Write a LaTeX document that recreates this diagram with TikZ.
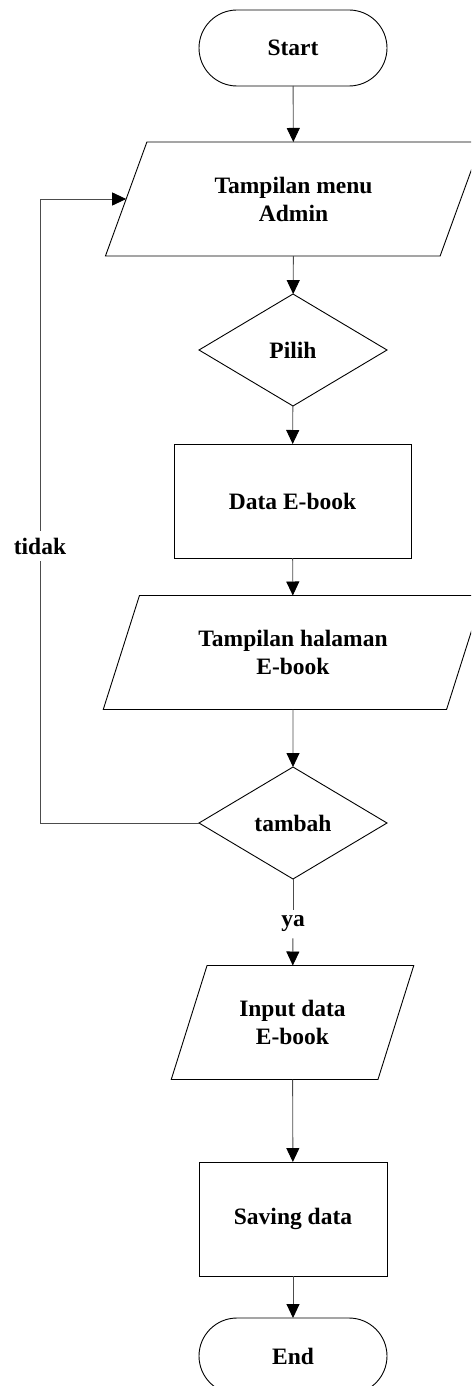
\documentclass[tikz,border=0pt]{standalone}
\usepackage{fontspec}
\setmainfont{Liberation Serif}
\usetikzlibrary{shapes.geometric,arrows.meta}

\tikzset{
  box/.style={draw, line width=0.9pt, inner sep=0pt, outer sep=0pt, align=center,
    font=\bfseries\fontsize{23.5}{28}\selectfont},
  term/.style={box, rectangle, rounded corners=38pt, minimum width=188pt, minimum height=76pt},
  io/.style={box, trapezium, trapezium left angle=63.4, trapezium right angle=116.6,
    trapezium stretches=true, minimum height=114pt},
  proc/.style={box, rectangle, minimum height=114pt},
  decision/.style={box, diamond, minimum width=188pt, minimum height=112pt},
  lbl/.style={fill=white, inner xsep=2pt, font=\bfseries\fontsize{23.5}{28}\selectfont},
  link/.style={draw=black!70, line width=0.9pt},
  flow/.style={link, -{Triangle[length=14pt,width=13pt,black]}}
}

\begin{document}
\begin{tikzpicture}[x=1pt, y=-1pt]
\useasboundingbox (0,0) rectangle (471,1386);
\clip (0,0) rectangle (471,1386);

% main column
\node[term] (start) at (293,48) {Start};
\node[io, minimum width=377pt] (menu) at (293.5,199) {Tampilan menu\\Admin};
\node[decision] (pilih) at (293,350) {Pilih};
\node[proc, minimum width=237pt] (data) at (292.5,501) {Data E-book};
\node[io, minimum width=380pt] (halaman) at (293,652.5) {Tampilan halaman\\E-book};
\node[decision] (tambah) at (293,823) {tambah};
\node[lbl, inner ysep=6pt] (ya) at (293,924) {ya};
\node[io, minimum width=243pt] (input) at (292.5,1022.5) {Input data\\E-book};
\node[proc, minimum width=188pt] (saving) at (293,1219) {Saving data};
\node[term] (end) at (293,1356) {End};

% loop back label
\node[lbl, inner ysep=7pt] (tidak) at (40,546) {tidak};

\draw[flow] (start) -- (menu);
\draw[flow] (menu) -- (pilih);
\draw[flow] (pilih) -- (data);
\draw[flow] (data) -- (halaman);
\draw[flow] (halaman) -- (tambah);
\draw[link] (tambah) -- (ya);
\draw[flow] (ya) -- (input);
\draw[flow] (input) -- (saving);
\draw[flow] (saving) -- (end);

% tidak: back to the menu
\draw[link] (tambah.west) -| (tidak.south);
\draw[flow] (tidak.north) |- (menu.west);
\end{tikzpicture}
\end{document}
